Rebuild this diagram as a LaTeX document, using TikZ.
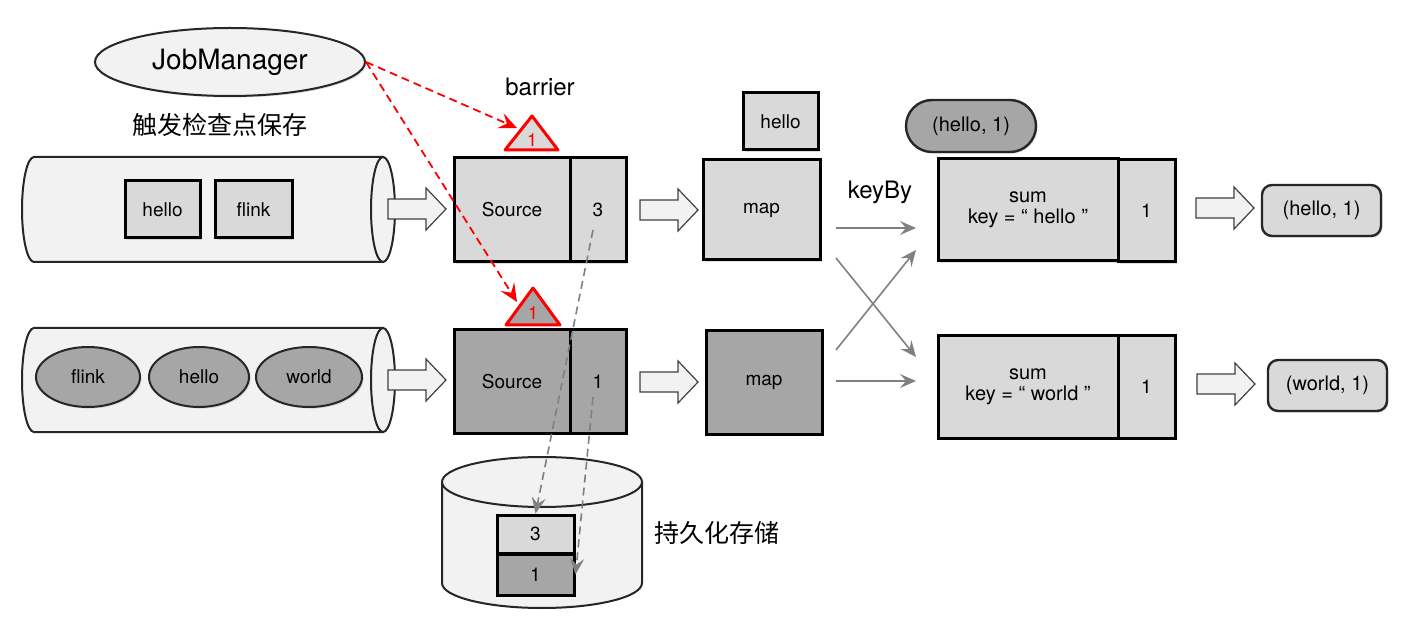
\documentclass[tikz,border=0pt]{standalone}
\usepackage{fontspec}
\setmainfont{TeX Gyre Heros}
\newfontfamily\cjk{Noto Sans CJK SC}
\usetikzlibrary{arrows.meta,shapes.geometric,shadows,calc}
\definecolor{lgray}{HTML}{D9D9D9}
\definecolor{dgray}{HTML}{A6A6A6}
\definecolor{cylfill}{HTML}{F2F2F2}
\definecolor{arrgray}{HTML}{808080}
\begin{document}
\begin{tikzpicture}[x=0.5pt,y=-0.5pt,
  shad/.style={drop shadow={opacity=0.25,shadow xshift=0.8pt,shadow yshift=-0.8pt}},
  lbl/.style={font=\fontsize{9.5}{11}\selectfont},
  box/.style={draw=black,line width=1.5pt,fill=lgray,inner sep=0pt,lbl,shad},
  dbox/.style={box,fill=dgray},
  word/.style={ellipse,draw=black!85,line width=1pt,fill=dgray,inner sep=0pt,lbl,shad},
  outbox/.style={draw=black!85,line width=1.2pt,fill=lgray,rounded corners=5pt,inner sep=0pt,font=\fontsize{10}{12}\selectfont,shad},
  cylbody/.style={draw=black!85,line width=1pt,fill=cylfill},
  trired/.style={draw=red,line width=1.5pt,line join=round},
  reddash/.style={red,line width=0.9pt,dash pattern=on 4pt off 2.5pt,-{Stealth[length=9pt,width=8pt,inset=3.5pt]}},
  graydash/.style={arrgray,line width=0.8pt,dash pattern=on 4pt off 2.5pt,-{Stealth[length=8pt,width=7pt,inset=3pt]}},
  grayarr/.style={arrgray,line width=0.8pt,-{Stealth[length=8pt,width=7pt,inset=3pt]}},
  barrow/.pic={\draw[draw=black!75,line width=0.6pt,fill=cylfill] (0,-10)--(38,-10)--(38,-21)--(58,0)--(38,21)--(38,10)--(0,10)--cycle;},
]
\useasboundingbox (0,0) rectangle (1414,620);

% JobManager
\node[ellipse,draw=black!85,line width=1pt,fill=cylfill,minimum width=135pt,minimum height=34pt,inner sep=0pt,shad,font=\fontsize{14}{16}\selectfont] (jm) at (230,62) {JobManager};
\node[font=\cjk\fontsize{12.5}{14}\selectfont] (trig) at (220,125) {触发检查点保存};

% top input cylinder
\filldraw[cylbody] (383,157) -- (34,157) arc[start angle=270,end angle=90,x radius=12,y radius=52.5] -- (383,262) -- cycle;
\filldraw[cylbody] (383,209.5) ellipse[x radius=12,y radius=52.5];
\node[box,minimum width=37.5pt,minimum height=28.5pt] (h1) at (162.5,209.5) {hello};
\node[box,minimum width=38.5pt,minimum height=28.5pt] (f1) at (253.5,209.5) {flink};

% bottom input cylinder
\filldraw[cylbody] (383,328) -- (34,328) arc[start angle=270,end angle=90,x radius=12,y radius=52] -- (383,432) -- cycle;
\filldraw[cylbody] (383,380) ellipse[x radius=12,y radius=52];
\node[word,minimum width=52pt,minimum height=30pt] (f2) at (88,377) {flink};
\node[word,minimum width=50pt,minimum height=30pt] (h2) at (199,377) {hello};
\node[word,minimum width=53pt,minimum height=30pt] (w2) at (309,377) {world};

% block arrows
\pic at (388,209) {barrow};
\pic at (640,210) {barrow};
\pic at (388,380) {barrow};
\pic at (640,382) {barrow};
\pic at (1196,208) {barrow};
\pic at (1197,384) {barrow};

% sources
\node[box,minimum width=58pt,minimum height=52pt] (s1) at (512,210) {Source};
\node[box,minimum width=28pt,minimum height=52pt] (s1c) at (598,210) {3};
\node[dbox,minimum width=58pt,minimum height=51.5pt] (s2) at (512,381.5) {Source};
\node[dbox,minimum width=28pt,minimum height=51.5pt] (s2c) at (598,381.5) {1};

% barriers
\node[font=\fontsize{12}{14}\selectfont] (bar) at (540,87) {barrier};
\filldraw[trired,fill=lgray] (505,150) -- (532,116) -- (558,150) -- cycle;
\node[red,font=\fontsize{9}{10}\selectfont] (b1) at (532,140) {1};
\filldraw[trired,fill=dgray] (506,325) -- (533,288) -- (560,325) -- cycle;
\node[red,font=\fontsize{9}{10}\selectfont] (b2) at (533,313) {1};
\coordinate (t1) at (517,128);
\coordinate (t2) at (517,302);

% maps
\node[box,minimum width=37.5pt,minimum height=28.5pt] (h3) at (780.5,121.5) {hello};
\node[box,minimum width=58.5pt,minimum height=50pt] (m1) at (761.5,210) {map};
\node[dbox,minimum width=58pt,minimum height=51.5pt] (m2) at (764,382.5) {map};

% keyBy arrows
\node[font=\fontsize{12}{14}\selectfont] (kb) at (880,192) {keyBy};
\coordinate (k1s) at (836,228); \coordinate (k1e) at (916,228);
\coordinate (k2s) at (836,258); \coordinate (k2e) at (916,357);
\coordinate (k3s) at (836,350); \coordinate (k3e) at (916,250);
\coordinate (k4s) at (836,381); \coordinate (k4e) at (916,381);
\draw[grayarr] (k1s) -- (k1e);
\draw[grayarr] (k2s) -- (k2e);
\draw[grayarr] (k3s) -- (k3e);
\draw[grayarr] (k4s) -- (k4e);

% sums
\node[draw=black!85,line width=1.2pt,fill=dgray,rounded corners=13pt,minimum width=65pt,minimum height=26pt,inner sep=0pt,font=\fontsize{10}{12}\selectfont,shad] (h4) at (971,126) {(hello, 1)};
\node[box,minimum width=90pt,minimum height=51pt,align=center,font=\fontsize{10}{10.5}\selectfont] (u1) at (1028,210) {sum\\key = “ hello ”};
\node[box,minimum width=28.5pt,minimum height=51pt] (u1c) at (1146.5,211) {1};
\node[box,minimum width=90pt,minimum height=51pt,align=center,font=\fontsize{10}{10.5}\selectfont] (u2) at (1028,387) {sum\\key = “ world ”};
\node[box,minimum width=28.5pt,minimum height=51pt] (u2c) at (1146.5,387) {1};

% outputs
\node[outbox,minimum width=59.5pt,minimum height=25.5pt] (o1) at (1321.5,210.5) {(hello, 1)};
\node[outbox,minimum width=59.5pt,minimum height=25.5pt] (o2) at (1327.5,385.5) {(world, 1)};

% storage
\filldraw[cylbody] (442,482) -- (442,583) arc[start angle=180,end angle=0,x radius=100,y radius=25] -- (642,482) -- cycle;
\filldraw[cylbody] (542,482) ellipse[x radius=100,y radius=25];
\node[box,minimum width=38.5pt,minimum height=19pt] (st3) at (535.5,534) {3};
\node[dbox,minimum width=38.5pt,minimum height=20.5pt] (st1) at (535.5,574.5) {1};
\node[font=\cjk\fontsize{12.5}{14}\selectfont] (pers) at (717,533) {持久化存储};

% dashed arrows
\coordinate (g1s) at (593,230);
\coordinate (g2s) at (593,397);
\draw[graydash] (g1s) -- (st3.north);
\draw[graydash] (g2s) -- (st1.east);
\draw[reddash] (jm.east) -- (t1);
\draw[reddash] (jm.east) -- (t2);
\end{tikzpicture}
\end{document}
